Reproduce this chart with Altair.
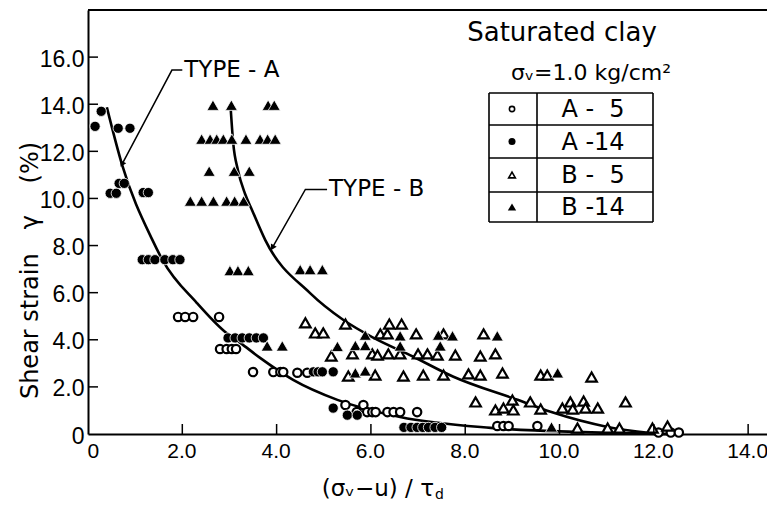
import altair as alt
import pandas as pd

# ---------------- data ----------------
a5_x = [1.91, 2.06, 2.23, 2.78, 2.80, 2.94, 3.05, 3.14, 3.50, 3.93, 4.08, 4.14, 4.44, 4.65,
        5.46, 5.84, 5.70, 5.92, 6.03, 6.10, 6.35, 6.48, 6.62, 6.98, 8.68, 8.81, 8.92, 9.53,
        12.10, 12.36, 12.53]
a5_y = [4.97, 4.97, 4.97, 4.97, 3.61, 3.61, 3.61, 3.61, 2.63, 2.63, 2.63, 2.63, 2.60, 2.60,
        1.23, 1.23, 0.93, 0.93, 0.93, 0.93, 0.93, 0.93, 0.93, 0.93, 0.34, 0.34, 0.34, 0.34,
        0.06, 0.06, 0.06]

a14_x = [0.15, 0.28, 0.64, 0.89, 0.47, 0.60, 0.66, 0.77, 1.17, 1.28,
         1.15, 1.28, 1.42, 1.63, 1.80, 1.95,
         2.97, 3.12, 3.27, 3.42, 3.57, 3.72,
         4.78, 4.88, 4.97, 5.20, 5.20, 5.50, 5.71,
         6.70, 6.85, 6.98, 7.10, 7.22, 7.36, 7.50]
a14_y = [13.06, 13.70, 12.98, 12.98, 10.22, 10.22, 10.64, 10.64, 10.25, 10.25,
         7.40, 7.40, 7.40, 7.40, 7.40, 7.40,
         4.08, 4.08, 4.08, 4.08, 4.08, 4.08,
         2.64, 2.64, 2.64, 2.64, 1.10, 0.80, 0.80,
         0.28, 0.28, 0.28, 0.28, 0.28, 0.28, 0.28]

b5_x = [4.61, 4.82, 4.99, 5.46, 6.20, 6.35, 6.39, 6.65, 6.96, 7.54, 8.39,
        5.16, 5.61, 6.03, 6.14, 6.37, 6.62, 7.00, 7.20, 7.41, 7.79, 8.32, 8.64,
        5.52, 6.09, 6.69, 7.11, 7.54, 8.07, 8.32, 8.79, 9.60, 9.74, 10.68,
        8.22, 8.64, 8.81, 9.00, 9.02, 9.38, 9.60, 10.06, 10.23, 10.28, 10.51, 10.55, 10.81, 11.40,
        10.38, 11.02, 11.27, 11.97, 12.29]
b5_y = [4.72, 4.29, 4.29, 4.67, 4.25, 4.25, 4.67, 4.67, 4.25, 4.25, 4.25,
        3.31, 3.40, 3.40, 3.35, 3.40, 3.40, 3.40, 3.40, 3.35, 3.35, 3.31, 3.40,
        2.46, 2.50, 2.46, 2.50, 2.50, 2.55, 2.50, 2.59, 2.50, 2.50, 2.42,
        1.36, 1.02, 1.10, 1.44, 1.02, 1.36, 1.06, 1.10, 1.36, 1.06, 1.40, 1.10, 1.10, 1.36,
        0.25, 0.25, 0.25, 0.25, 0.34]

b14_x = [2.65, 3.04, 3.82, 3.95,
         2.41, 2.59, 2.73, 2.87, 3.05, 3.35, 3.65, 3.81, 3.97,
         2.57, 3.10, 3.42,
         2.17, 2.41, 2.66, 2.94, 3.11, 3.30,
         3.01, 3.18, 3.40, 4.50, 4.71, 4.97,
         3.80, 4.12,
         5.88, 6.62, 7.43, 7.73, 8.68,
         5.29, 5.67, 5.88, 6.62, 7.47,
         5.67, 5.88, 9.96, 9.83]
b14_y = [13.96, 13.96, 13.96, 13.96,
         12.52, 12.52, 12.52, 12.52, 12.52, 12.52, 12.52, 12.52, 12.52,
         11.16, 11.16, 11.16,
         9.89, 9.89, 9.89, 9.89, 9.89, 9.89,
         6.94, 6.94, 6.94, 6.98, 6.98, 6.98,
         3.74, 3.74,
         4.20, 4.17, 4.20, 4.17, 4.17,
         3.72, 3.76, 3.76, 3.74, 3.74,
         2.60, 2.68, 2.60, 0.30]

curve_a_x = [0.40, 0.72, 1.36, 1.59, 2.31, 2.91, 3.23, 3.65, 4.35, 5.29, 6.62, 8.54, 10.50, 12.48]
curve_a_y = [13.87, 11.45, 8.26, 7.35, 5.56, 4.33, 3.87, 3.23, 2.30, 1.45, 0.72, 0.26, 0.08, 0.00]

curve_b_x = [3.02, 3.08, 3.18, 3.33, 3.48, 3.76, 4.71, 5.41, 6.05, 6.90, 7.75, 9.11, 9.81, 11.02, 11.93]
curve_b_y = [14.00, 12.35, 11.20, 10.20, 9.50, 8.23, 5.98, 4.85, 4.09, 3.28, 2.43, 1.45, 0.94, 0.30, 0.04]

x_ticks = [0, 2, 4, 6, 8, 10, 12, 14]
y_ticks = [0, 2, 4, 6, 8, 10, 12, 14, 16]

legend_labels = ["A -\u20075", "A -14", "B -\u20075", "B -14"]

# leader lines (label anchor -> elbow -> arrow tip), in data units
lead_a_x = [2.00, 1.78, 0.72]
lead_a_y = [15.45, 15.45, 11.45]
lead_b_x = [5.07, 4.61, 3.91]
lead_b_y = [10.38, 10.38, 7.91]

# ---------------- layout ----------------
W, H = 679, 424
XMAX, YMAX = 14.4, 18.0
NFONT = "Liberation Sans"
TFONT = "DejaVu Sans"

xs = alt.Scale(domain=[0, XMAX], nice=False, zero=False)
ys = alt.Scale(domain=[0, YMAX], nice=False, zero=False)

lab_expr = "datum.value == 0 ? '0' : format(datum.value, '.1f')"
ylab_expr = "datum.value == 0 ? '0\u2007' : format(datum.value, '.1f')"

x_axis = alt.Axis(values=x_ticks, labelExpr=lab_expr, ticks=False, grid=False,
                  domainColor="black", domainWidth=2, labelFont=NFONT, labelFontSize=21,
                  labelColor="black", labelPadding=6, labelOffset=-1, title=None)
y_axis = alt.Axis(values=y_ticks, labelExpr=ylab_expr, ticks=False, grid=False,
                  domainColor="black", domainWidth=2, labelFont=NFONT, labelFontSize=23,
                  labelColor="black", labelPadding=4, labelOffset=2,
                  title="Shear strain\u2003\u03b3\u2003 (%)", titleFont=TFONT, titleFontSize=24,
                  titleFontWeight="normal", titleColor="black", titleAngle=-90,
                  titleX=-58, titleY=260, titleAlign="center", titleBaseline="middle")

one = pd.DataFrame({"k": [0]})

ca = pd.DataFrame({"x": curve_a_x, "y": curve_a_y})
cb = pd.DataFrame({"x": curve_b_x, "y": curve_b_y})

line_a = alt.Chart(ca).mark_line(color="black", strokeWidth=2.6, interpolate="monotone").encode(
    x=alt.X("x:Q", scale=xs, axis=x_axis), y=alt.Y("y:Q", scale=ys, axis=y_axis))
line_b = alt.Chart(cb).mark_line(color="black", strokeWidth=2.6, interpolate="monotone").encode(
    x=alt.X("x:Q", scale=xs), y=alt.Y("y:Q", scale=ys))

la = pd.DataFrame({"x": lead_a_x, "y": lead_a_y, "o": [0, 1, 2]})
lb = pd.DataFrame({"x": lead_b_x, "y": lead_b_y, "o": [0, 1, 2]})
lead_a = alt.Chart(la).mark_line(color="black", strokeWidth=1.5).encode(
    x=alt.X("x:Q", scale=xs), y=alt.Y("y:Q", scale=ys), order="o:Q")
lead_b = alt.Chart(lb).mark_line(color="black", strokeWidth=1.5).encode(
    x=alt.X("x:Q", scale=xs), y=alt.Y("y:Q", scale=ys), order="o:Q")
tip_a = alt.Chart(la.iloc[[2]]).mark_point(shape="triangle-up", filled=True, color="black",
                                           size=45, angle=208, opacity=1).encode(
    x=alt.X("x:Q", scale=xs), y=alt.Y("y:Q", scale=ys))
tip_b = alt.Chart(lb.iloc[[2]]).mark_point(shape="triangle-up", filled=True, color="black",
                                           size=45, angle=210, opacity=1).encode(
    x=alt.X("x:Q", scale=xs), y=alt.Y("y:Q", scale=ys))

txt_a = alt.Chart(la.iloc[[0]]).mark_text(text="TYPE - A", font=TFONT, fontSize=23,
                                          align="left", baseline="middle", dx=2, color="black").encode(
    x=alt.X("x:Q", scale=xs), y=alt.Y("y:Q", scale=ys))
txt_b = alt.Chart(lb.iloc[[0]]).mark_text(text="TYPE - B", font=TFONT, fontSize=23,
                                          align="left", baseline="middle", dx=2, color="black").encode(
    x=alt.X("x:Q", scale=xs), y=alt.Y("y:Q", scale=ys))


def pts(xv, yv, shape, filled, size):
    df = pd.DataFrame({"x": xv, "y": yv})
    if filled:
        m = alt.Chart(df).mark_point(shape=shape, filled=True, fill="black", stroke="white",
                                     strokeWidth=0.8, size=size, opacity=1)
    else:
        m = alt.Chart(df).mark_point(shape=shape, filled=True, fill="white", stroke="black",
                                     strokeWidth=2.2, size=size, opacity=1)
    return m.encode(x=alt.X("x:Q", scale=xs), y=alt.Y("y:Q", scale=ys))


p_a5 = pts(a5_x, a5_y, "circle", False, 70)
p_a14 = pts(a14_x, a14_y, "circle", True, 105)
p_b5 = pts(b5_x, b5_y, "triangle-up", False, 110)
p_b14 = pts(b14_x, b14_y, "triangle-up", True, 145)

# inward tick marks
xt = pd.DataFrame({"v": x_ticks[1:]})
yt = pd.DataFrame({"v": y_ticks[1:]})
xtick = alt.Chart(xt).mark_rule(color="black", strokeWidth=1.5).encode(
    x=alt.X("v:Q", scale=xs), y=alt.value(H), y2=alt.value(H - 10))
ytick = alt.Chart(yt).mark_rule(color="black", strokeWidth=1.5).encode(
    y=alt.Y("v:Q", scale=ys), x=alt.value(0), x2=alt.value(10))

# top frame line
top = alt.Chart(one).mark_rule(color="black", strokeWidth=2).encode(
    x=alt.value(0), x2=alt.value(W), y=alt.value(0))

# x title (text pieces with subscripts)
xt1 = alt.Chart(one).mark_text(text="(\u03c3\u1d65\u2212u) / \u03c4", font=TFONT, fontSize=23,
                               align="right", baseline="middle", color="black").encode(
    x=alt.value(346), y=alt.value(479))
xt2 = alt.Chart(one).mark_text(text="d", font=TFONT, fontSize=14, align="left",
                               baseline="middle", color="black").encode(
    x=alt.value(347), y=alt.value(485))

# header texts
h1 = alt.Chart(one).mark_text(text="Saturated clay", font=TFONT, fontSize=26, align="center",
                              baseline="middle", color="black").encode(
    x=alt.value(474), y=alt.value(23))
h2 = alt.Chart(one).mark_text(text="\u03c3\u1d65=1.0 kg/cm\u00b2", font=TFONT, fontSize=22,
                              align="center", baseline="middle", color="black").encode(
    x=alt.value(503), y=alt.value(63))

# legend table
LX0, LX1, LXD = 401, 565, 449
row_edges = [83, 115, 148, 182, 212]
layers_leg = []
for yv in row_edges:
    layers_leg.append(alt.Chart(one).mark_rule(color="black", strokeWidth=1.6).encode(
        x=alt.value(LX0), x2=alt.value(LX1), y=alt.value(yv)))
for xv in [LX0, LXD, LX1]:
    layers_leg.append(alt.Chart(one).mark_rule(color="black", strokeWidth=1.6).encode(
        x=alt.value(xv), y=alt.value(row_edges[0]), y2=alt.value(row_edges[-1])))
leg_sym = [("circle", False, 28), ("circle", True, 50), ("triangle-up", False, 45), ("triangle-up", True, 70)]
for i, (shape, filled, size) in enumerate(leg_sym):
    cy = (row_edges[i] + row_edges[i + 1]) / 2
    if filled:
        mk = alt.Chart(one).mark_point(shape=shape, filled=True, fill="black",
                                       size=size, opacity=1)
    else:
        mk = alt.Chart(one).mark_point(shape=shape, filled=True, fill="white", stroke="black",
                                       strokeWidth=1.6, size=size, opacity=1)
    layers_leg.append(mk.encode(x=alt.value(424), y=alt.value(cy)))
    layers_leg.append(alt.Chart(one).mark_text(text=legend_labels[i], font=TFONT, fontSize=24,
                                               align="center", baseline="middle", color="black").encode(
        x=alt.value(505), y=alt.value(cy + 1)))

chart = alt.layer(
    line_a, line_b, lead_a, lead_b, tip_a, tip_b,
    p_a5, p_a14, p_b5, p_b14,
    xtick, ytick, top, txt_a, txt_b, xt1, xt2, h1, h2, *layers_leg
).properties(
    width=W, height=H,
    autosize=alt.AutoSizeParams(type="none"),
    padding={"left": 88, "top": 10, "right": 0, "bottom": 73},
    background="white",
).configure_view(stroke=None)

chart.save("out.html", embed_options={"renderer": "svg", "actions": False})
